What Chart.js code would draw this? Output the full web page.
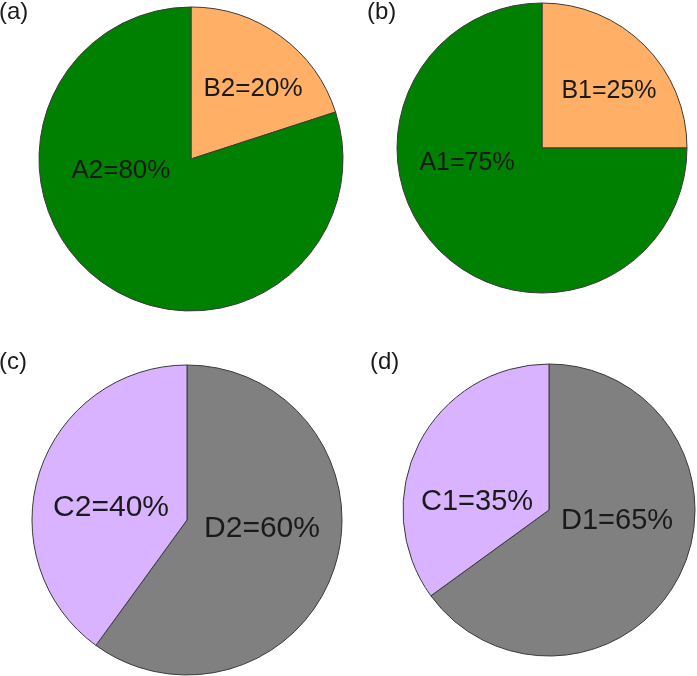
<!DOCTYPE html>
<html>
<head>
<meta charset="utf-8">
<script src="https://cdn.jsdelivr.net/npm/chart.js"></script>
<style>
  html, body { margin: 0; padding: 0; background: #fff; }
  #wrap { position: relative; width: 697px; height: 676px; overflow: hidden; }
  #wrap canvas { position: absolute; }
</style>
</head>
<body>
<div id="wrap">
  <canvas id="pieA"></canvas>
  <canvas id="pieB"></canvas>
  <canvas id="pieC"></canvas>
  <canvas id="pieD"></canvas>
</div>
<script>
// data
var panelTags = ["(a)", "(b)", "(c)", "(d)"];
var catsA = ["B2", "A2"];
var valsA = [20, 80];
var catsB = ["B1", "A1"];
var valsB = [25, 75];
var catsC = ["D2", "C2"];
var valsC = [60, 40];
var catsD = ["D1", "C1"];
var valsD = [65, 35];

var ORANGE = "#FFB066";
var GREEN = "#008000";
var LILAC = "#D9B3FF";
var GREY = "#808080";

// quadrant canvas box + pie centre / radius (page px), text style
var panels = [
  { id: "pieA", box: [0, 0, 360, 340], cx: 191, cy: 159, r: 152, cats: catsA, vals: valsA,
    colors: [ORANGE, GREEN], size: 26, tag: [-1, 0], offs: [[0.408, -0.461], [-0.461, 0.079]] },
  { id: "pieB", box: [360, 0, 337, 340], cx: 542, cy: 148, r: 145, cats: catsB, vals: valsB,
    colors: [ORANGE, GREEN], size: 25, tag: [7, 0], offs: [[0.462, -0.393], [-0.517, 0.103]] },
  { id: "pieC", box: [0, 340, 360, 336], cx: 187, cy: 520, r: 155, cats: catsC, vals: valsC,
    colors: [GREY, LILAC], size: 30, tag: [-1, 10], offs: [[0.484, 0.058], [-0.49, -0.077]] },
  { id: "pieD", box: [360, 340, 337, 336], cx: 549, cy: 510, r: 146, cats: catsD, vals: valsD,
    colors: [GREY, LILAC], size: 29, tag: [10, 10], offs: [[0.466, 0.075], [-0.493, -0.055]] }
];

var sliceText = {
  id: "sliceText",
  afterDatasetsDraw: function (chart, args, opts) {
    var ctx = chart.ctx;
    var meta = chart.getDatasetMeta(0);
    var ds = chart.data.datasets[0];
    ctx.save();
    ctx.fillStyle = "#1a1a1a";
    ctx.textAlign = "center";
    ctx.textBaseline = "middle";
    ctx.font = opts.size + 'px "Liberation Sans", Arial, sans-serif';
    meta.data.forEach(function (arc, i) {
      var o = opts.offs[i];
      var txt = chart.data.labels[i] + "=" + ds.data[i] + "%";
      ctx.fillText(txt, arc.x + o[0] * arc.outerRadius, arc.y + o[1] * arc.outerRadius);
    });
    ctx.textAlign = "left";
    ctx.textBaseline = "top";
    ctx.font = '24px "Liberation Sans", Arial, sans-serif';
    ctx.fillText(opts.tag, opts.tagPos[0], opts.tagPos[1]);
    ctx.restore();
  }
};

panels.forEach(function (p, k) {
  var el = document.getElementById(p.id);
  var bx = p.box;
  el.style.left = bx[0] + "px";
  el.style.top = bx[1] + "px";
  el.width = bx[2];
  el.height = bx[3];
  var side = 2 * p.r + 1;
  var left = p.cx - bx[0] - side / 2;
  var top = p.cy - bx[1] - side / 2;
  new Chart(el, {
    type: "pie",
    data: {
      labels: p.cats,
      datasets: [{
        data: p.vals,
        backgroundColor: p.colors,
        borderColor: "#3a3a3a",
        borderWidth: 1
      }]
    },
    options: {
      responsive: false,
      animation: false,
      layout: { padding: { left: left, top: top, right: bx[2] - left - side, bottom: bx[3] - top - side } },
      plugins: {
        legend: { display: false },
        tooltip: { enabled: false },
        sliceText: { size: p.size, offs: p.offs, tag: panelTags[k], tagPos: p.tag }
      }
    },
    plugins: [sliceText]
  });
});
</script>
</body>
</html>
